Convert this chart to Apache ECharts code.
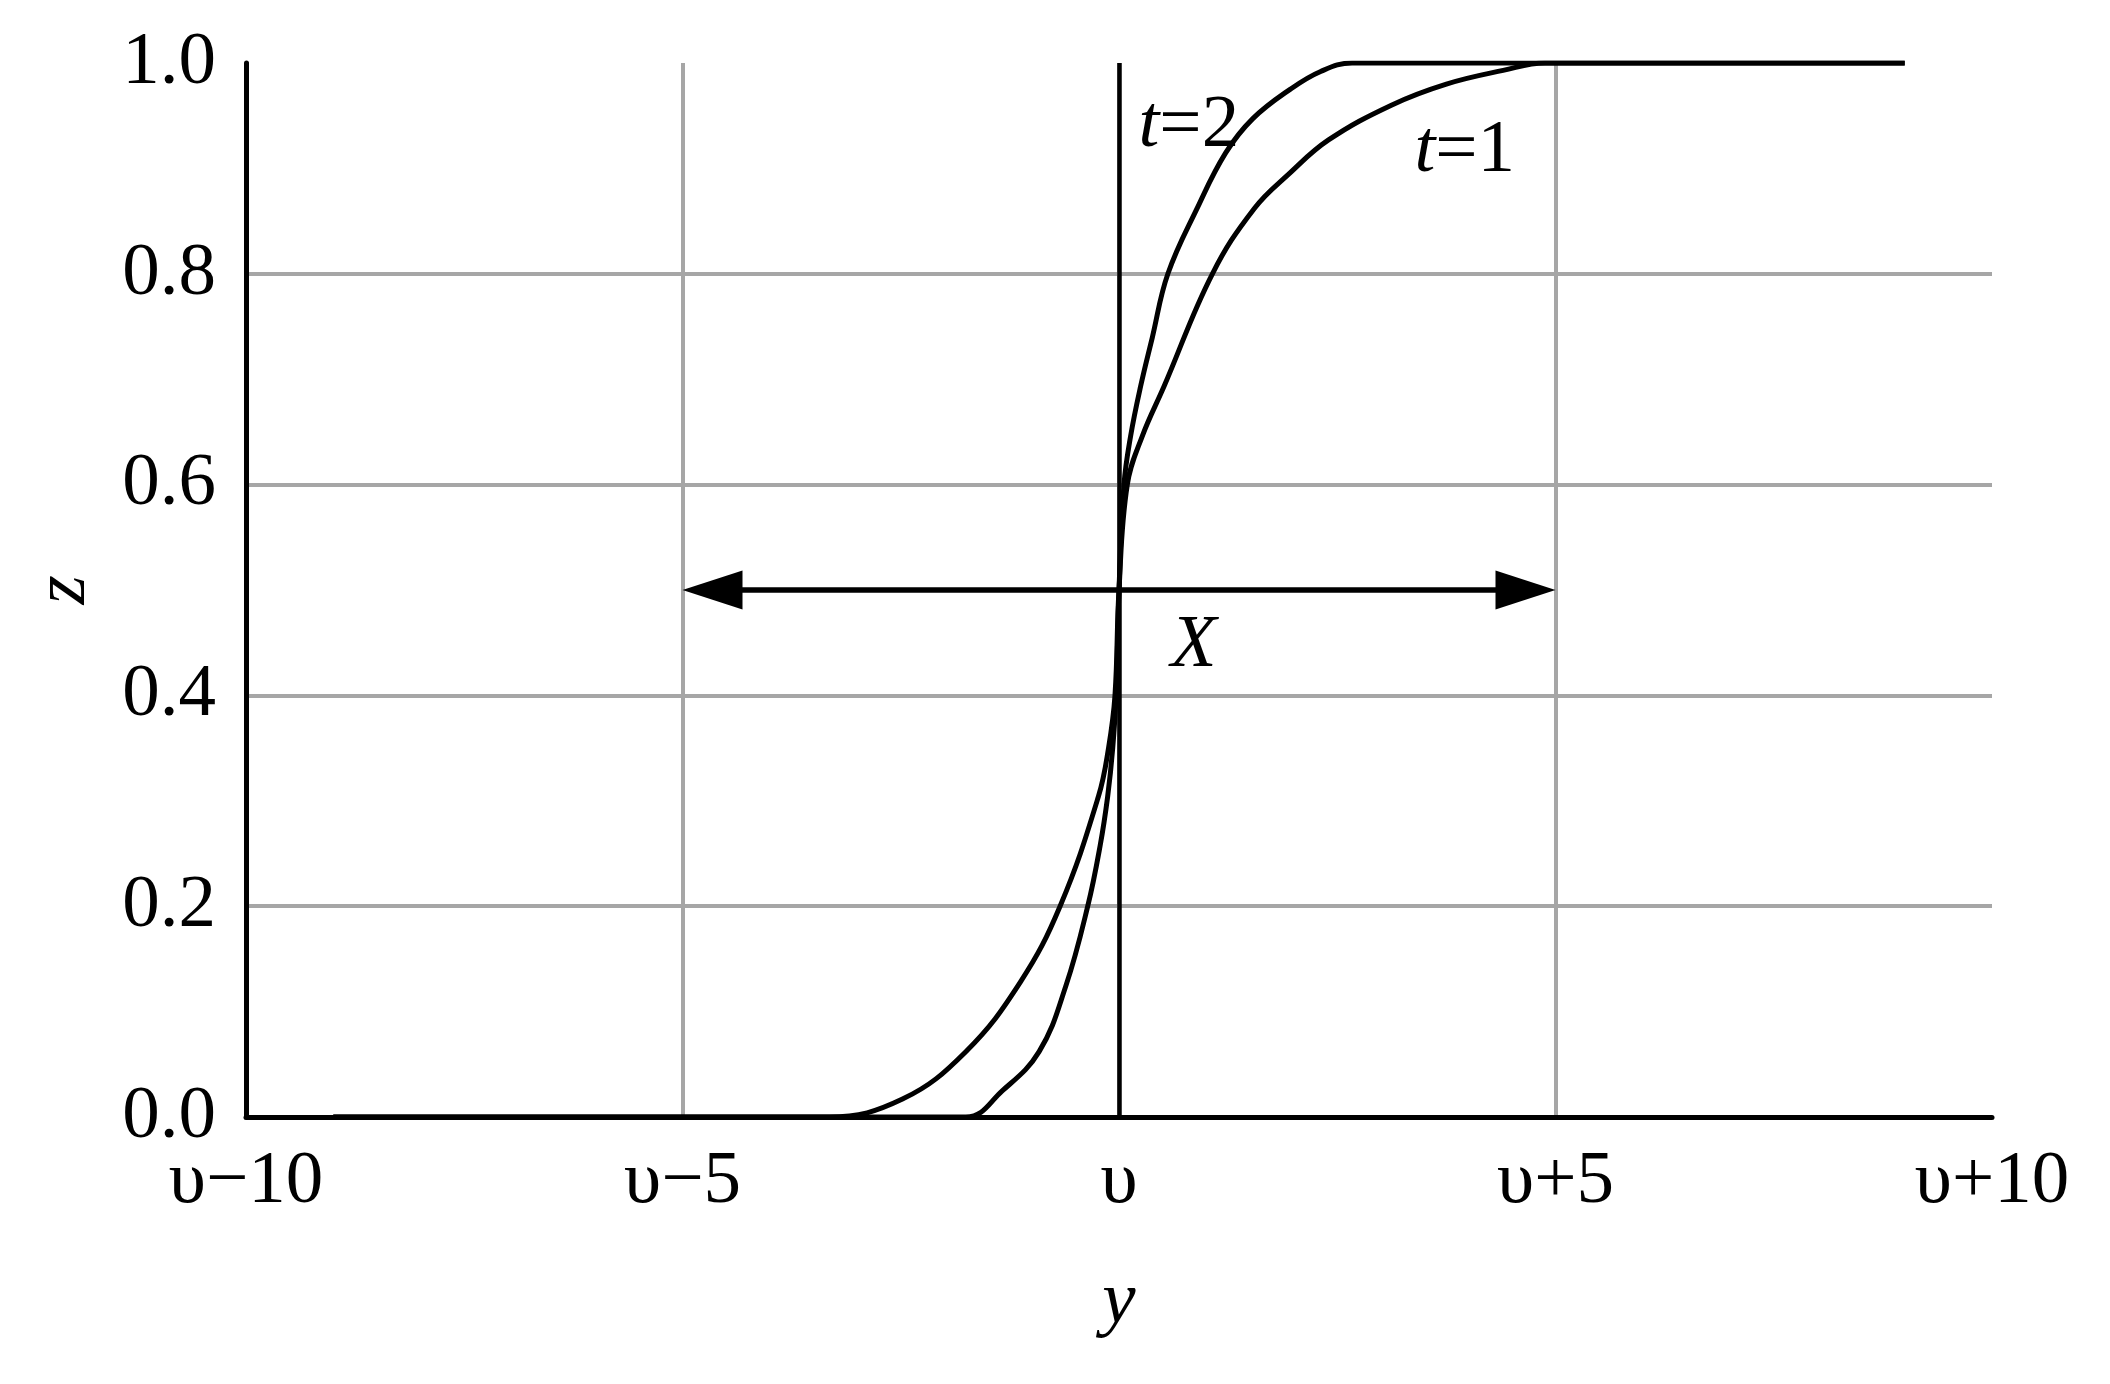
<!DOCTYPE html>
<html>
<head>
<meta charset="utf-8">
<script src="https://cdn.jsdelivr.net/npm/echarts@6/dist/echarts.min.js"></script>
<style>
html,body{margin:0;padding:0;background:#fff;}
#chart{width:2110px;height:1384px;}
</style>
</head>
<body>
<div id="chart"></div>
<script>
// ---- data ----
const xTickValues = [-10, -5, 0, 5, 10];
const xTickLabels = ['υ−10', 'υ−5', 'υ', 'υ+5', 'υ+10'];

const t1Y = [-9, -3.32, -2.48, -1.755, -1.13, -0.675, -0.236, -0.12, -0.046, 0, 0.095, 0.267, 0.515, 1.07, 1.55, 1.95, 2.4, 3.12, 3.75, 4.4, 4.88, 9];
const t1Z = [0, 0, 0.017, 0.062, 0.128, 0.2, 0.304, 0.35, 0.4, 0.5, 0.6, 0.646, 0.693, 0.8, 0.862, 0.895, 0.927, 0.96, 0.98, 0.993, 1, 1];

const t2Y = [-9, -1.755, -1.335, -0.915, -0.61, -0.358, -0.217, -0.13, -0.072, -0.034, 0, 0.057, 0.133, 0.247, 0.38, 0.56, 0.90, 1.22, 1.53, 1.96, 2.31, 2.67, 9];
const t2Z = [0, 0, 0.025, 0.062, 0.124, 0.2, 0.257, 0.304, 0.35, 0.4, 0.5, 0.6, 0.646, 0.693, 0.739, 0.8, 0.863, 0.9145, 0.947, 0.975, 0.992, 1, 1];

const arrowFrom = [-5, 0.5];
const arrowTo = [5, 0.5];
const vLineAt = 0;

const annoText = ['{i|t}=2', '{i|t}=1', '{i|X}'];
const annoY = [0.80, 3.96, 0.856];
const annoZ = [0.940, 0.9165, 0.447];

// ---- chart ----
const FONT = '"Liberation Serif", "Times New Roman", serif';
const zip = (a, b) => a.map((v, i) => [v, b[i]]);

const chart = echarts.init(document.getElementById('chart'), null, {renderer: 'canvas'});

const curveStyle = {color: '#000', width: 5};

const option = {
  backgroundColor: '#fff',
  animation: false,
  grid: {left: 246, right: 118, top: 63, bottom: 267},
  xAxis: {
    type: 'value', min: -10, max: 10, interval: 5,
    axisLine: {onZero: false, lineStyle: {color: '#000', width: 5}},
    axisTick: {show: false},
    axisLabel: {
      color: '#000', fontFamily: FONT, fontSize: 75, margin: 28,
      formatter: v => { const i = xTickValues.indexOf(v); return i >= 0 ? xTickLabels[i] : ''; }
    },
    splitLine: {show: true, showMinLine: false, showMaxLine: false, lineStyle: {color: '#a6a6a6', width: 4}},
    name: 'y', nameLocation: 'middle', nameGap: 148,
    nameTextStyle: {color: '#000', fontFamily: FONT, fontSize: 75, fontStyle: 'italic'}
  },
  yAxis: {
    type: 'value', min: 0, max: 1, interval: 0.2,
    axisLine: {show: true, onZero: false, lineStyle: {color: '#000', width: 5}},
    axisTick: {show: false},
    axisLabel: {color: '#000', fontFamily: FONT, fontSize: 75, margin: 30, formatter: v => v.toFixed(1)},
    splitLine: {show: true, showMinLine: false, showMaxLine: false, lineStyle: {color: '#a6a6a6', width: 4}},
    name: 'z', nameLocation: 'middle', nameGap: 144, nameRotate: 90,
    nameTextStyle: {color: '#000', fontFamily: FONT, fontSize: 75, fontStyle: 'italic'}
  },
  series: [
    {
      type: 'line', name: 't=1', data: zip(t1Y, t1Z), showSymbol: false,
      smooth: 0.4, lineStyle: curveStyle, z: 5,
      markLine: {
        silent: true, symbol: 'none', label: {show: false},
        lineStyle: {color: '#000', width: 4.5, type: 'solid'},
        data: [{xAxis: vLineAt}]
      }
    },
    {
      type: 'line', name: 't=2', data: zip(t2Y, t2Z), showSymbol: false,
      smooth: 0.4, lineStyle: curveStyle, z: 5
    },
    {
      type: 'custom', name: 'arrow', z: 6,
      data: [[arrowFrom[0], arrowFrom[1], arrowTo[0], arrowTo[1]]],
      encode: {x: [0, 2], y: [1, 3]},
      renderItem: function (params, api) {
        const a = api.coord([api.value(0), api.value(1)]);
        const b = api.coord([api.value(2), api.value(3)]);
        const L = 60, H = 19.5;
        return {
          type: 'group',
          children: [
            {type: 'line', shape: {x1: a[0] + L - 2, y1: a[1], x2: b[0] - L + 2, y2: b[1]}, style: {stroke: '#000', lineWidth: 5.5}},
            {type: 'polygon', shape: {points: [[a[0], a[1]], [a[0] + L, a[1] - H], [a[0] + L, a[1] + H]]}, style: {fill: '#000'}},
            {type: 'polygon', shape: {points: [[b[0], b[1]], [b[0] - L, b[1] - H], [b[0] - L, b[1] + H]]}, style: {fill: '#000'}}
          ]
        };
      }
    },
    {
      type: 'custom', name: 'labels', z: 7,
      data: annoText.map((t, i) => [annoY[i], annoZ[i], i]),
      encode: {x: 0, y: 1},
      renderItem: function (params, api) {
        const p = api.coord([api.value(0), api.value(1)]);
        const i = api.value(2);
        return {
          type: 'text', x: p[0], y: p[1],
          style: {
            text: annoText[i], fill: '#000',
            fontSize: 75, fontFamily: FONT,
            align: 'center', verticalAlign: 'middle',
            rich: {i: {fontStyle: 'italic', fontSize: 75, fontFamily: FONT, fill: '#000'}}
          }
        };
      }
    }
  ]
};
chart.setOption(option);
</script>
</body>
</html>
